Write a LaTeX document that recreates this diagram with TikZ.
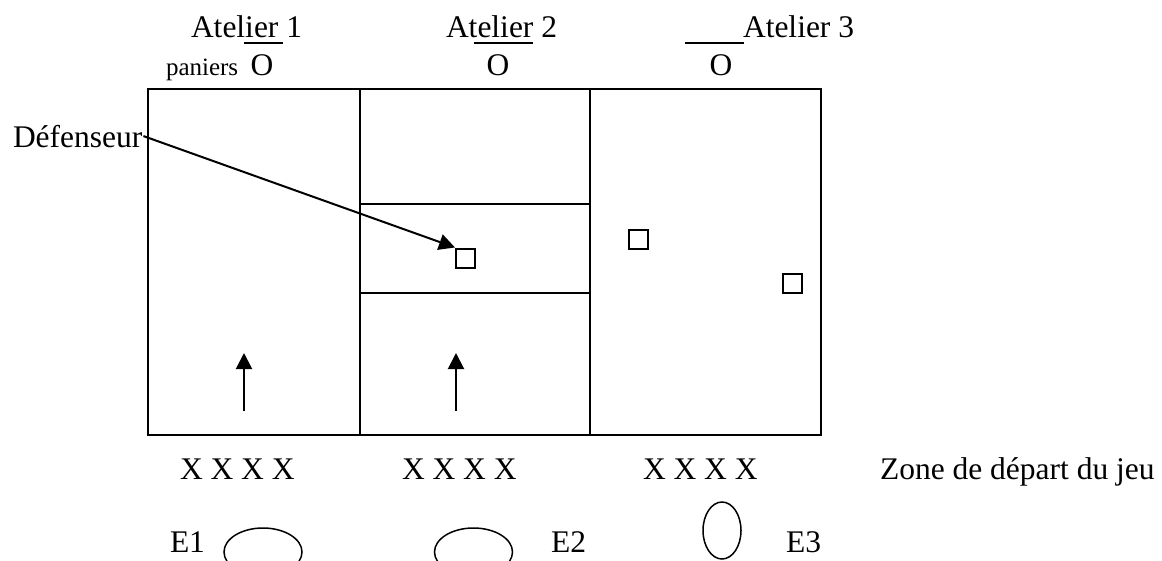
\documentclass[tikz,border=0pt]{standalone}
\usepackage{fontspec}
\setmainfont{Liberation Serif}
\usepackage{tikz}
\usetikzlibrary{shapes.geometric,arrows.meta,positioning}
\tikzset{
  txt/.style={inner sep=0pt, anchor=base west, font=\fontsize{31.5}{36}\selectfont},
  petit/.style={txt, font=\fontsize{25}{30}\selectfont},
  panier/.style={txt, anchor=base},
  defbox/.style={draw, rectangle, minimum size=19pt, inner sep=0pt, line width=2pt},
  equipe/.style={draw, ellipse, inner sep=0pt, line width=1.5pt},
  fleche/.style={line width=2pt, -{Triangle[length=16pt,width=16pt]}}
}

\begin{document}
\begin{tikzpicture}[x=1pt,y=-1pt,line width=2pt]
  \useasboundingbox (0,0) rectangle (1162,560);
  \clip (0,0) rectangle (1162,560);
  % terrain
  \draw (148,89) rectangle (821,435);
  \draw (360,89) -- (360,435);
  \draw (590,89) -- (590,435);
  \draw (360,204) -- (590,204);
  \draw (360,293) -- (590,293);
  % ateliers et paniers
  \node[txt] (at1) at (190,37) {Atelier 1};
  \node[txt] (at2) at (445,37) {Atelier 2};
  \node[txt] (at3) at (742,37) {Atelier 3};
  \node[petit] (pan) at (165,75) {paniers};
  \node[panier] (o1) at (262,75) {O};
  \node[panier] (o2) at (498,75) {O};
  \node[panier] (o3) at (721,75) {O};
  \draw (244,43) -- (283,43);
  \draw (474,43) -- (533,43);
  \draw (685,43) -- (744,43);
  % defenseurs
  \node[txt] (deflbl) at (12,147) {Défenseur};
  \node[defbox] (def1) at (465.5,258) {};
  \node[defbox] (def2) at (638,239) {};
  \node[defbox] (def3) at (792,283) {};
  \draw[fleche] (deflbl.east) -- (def1.north west);
  % sens du jeu
  \coordinate (d1) at (244,411);
  \coordinate (h1) at (244,353);
  \coordinate (d2) at (456,411);
  \coordinate (h2) at (456,353);
  \draw[fleche] (d1) -- (h1);
  \draw[fleche] (d2) -- (h2);
  % attaquants
  \node[txt] (x1) at (179,479) {X X X X};
  \node[txt] (x2) at (401,479) {X X X X};
  \node[txt] (x3) at (642,479) {X X X X};
  \node[txt] (zone) at (879,479) {Zone de départ du jeu};
  % equipes
  \node[txt] (e1lbl) at (169,552) {E1};
  \node[equipe, minimum width=78pt, minimum height=48pt] (e1) at (263,552) {};
  \node[equipe, minimum width=78pt, minimum height=48pt] (e2) at (473.5,552) {};
  \node[txt] (e2lbl) at (550,552) {E2};
  \node[equipe, minimum width=38pt, minimum height=57pt] (e3) at (722,530.5) {};
  \node[txt] (e3lbl) at (785,552) {E3};
\end{tikzpicture}
\end{document}
